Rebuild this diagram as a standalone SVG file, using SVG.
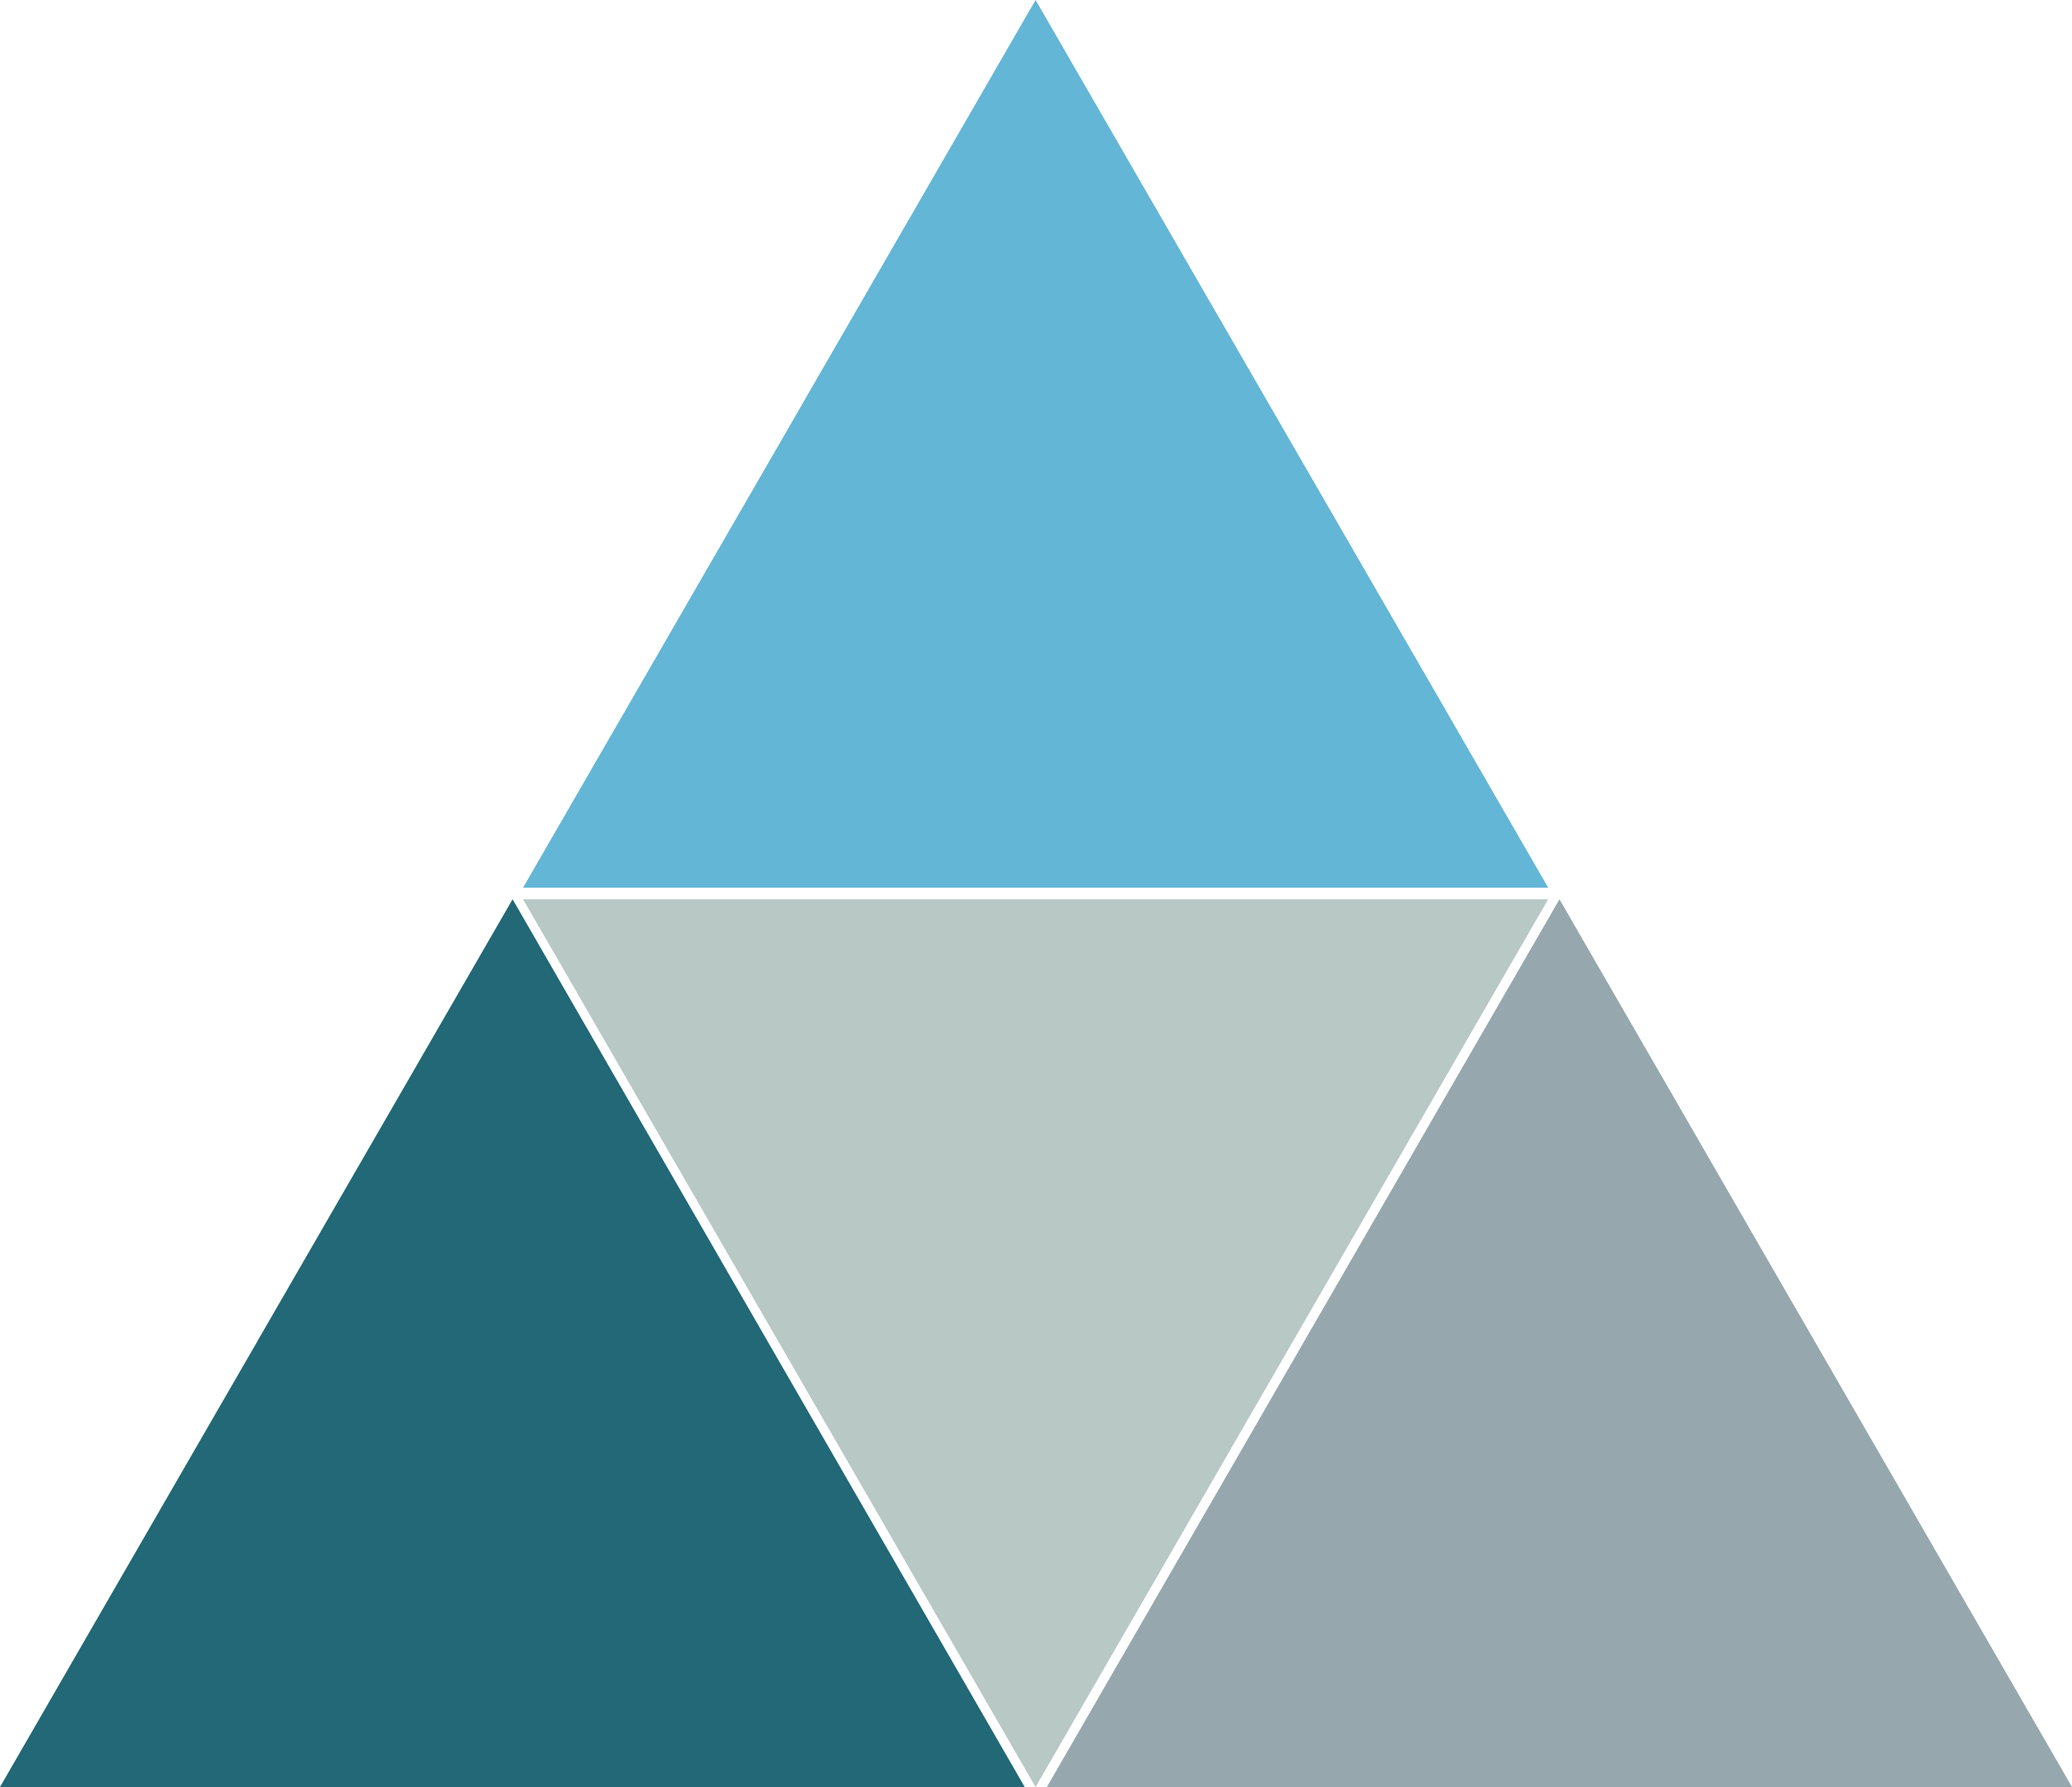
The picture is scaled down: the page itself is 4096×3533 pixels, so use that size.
<svg xmlns="http://www.w3.org/2000/svg" width="4096" height="3533" viewBox="0 0 4096 3533">
<style>
.t{stroke:none}
</style>
<rect width="4096" height="3533" fill="#ffffff"/>
<g id="top"><polygon class="t" fill="#63B6D6" points="2047.2,0 3060.5,1754.9 1034,1754.9"/></g>
<g id="middle"><polygon class="t" fill="#B7C8C5" points="1034,1777.9 3060.5,1777.9 2047.2,3533"/></g>
<g id="left"><polygon class="t" fill="#226876" points="1013.3,1777.9 2025.7,3533 0,3533"/></g>
<g id="right"><polygon class="t" fill="#96A8AD" points="3082.8,1777.9 4096,3533 2069.5,3533"/></g>
<g id="connectors"></g>
</svg>
